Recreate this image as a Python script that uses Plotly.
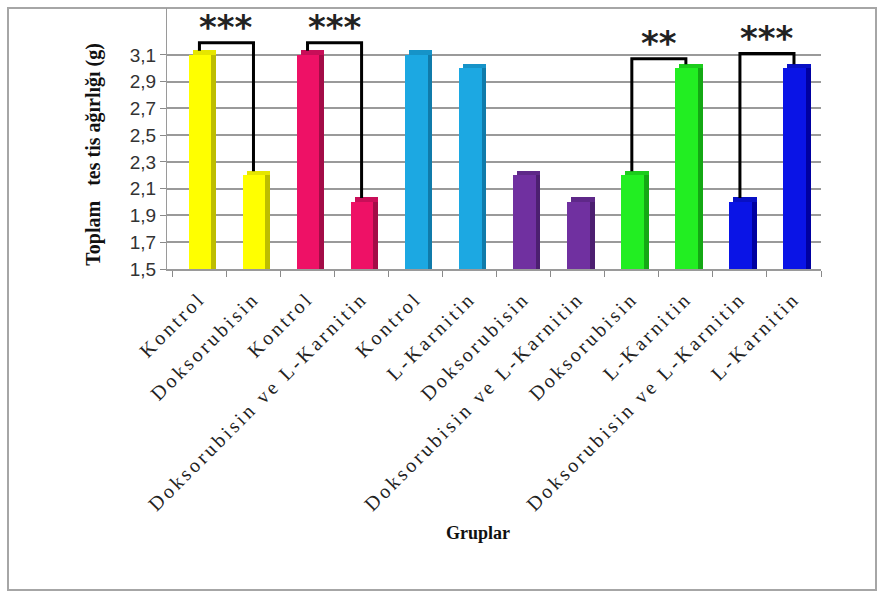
import plotly.graph_objects as go

# ---- data ----
categories = ["Kontrol", "Doksorubisin", "Kontrol", "Doksorubisin ve L-Karnitin",
              "Kontrol", "L-Karnitin", "Doksorubisin", "Doksorubisin ve L-Karnitin",
              "Doksorubisin", "L-Karnitin", "Doksorubisin ve L-Karnitin", "L-Karnitin"]
values = [3.1, 2.2, 3.1, 2.0, 3.1, 3.0, 2.2, 2.0, 2.2, 3.0, 2.0, 3.0]
ytick_vals = [1.5, 1.7, 1.9, 2.1, 2.3, 2.5, 2.7, 2.9, 3.1]
ytick_text = ["1,5", "1,7", "1,9", "2,1", "2,3", "2,5", "2,7", "2,9", "3,1"]
# significance brackets: (left index, right index, label)
brackets = [(0, 1, "***"), (2, 3, "***"), (8, 9, "**"), (10, 11, "***")]

# ---- styles ----
front_colors = ["#FFFF00", "#FFFF00", "#EE1166", "#EE1166", "#1CA8E2", "#1CA8E2",
                "#7030A0", "#7030A0", "#22EE22", "#22EE22", "#0A14E6", "#0A14E6"]
side_colors = ["#BDBD00", "#BDBD00", "#A30C47", "#A30C47", "#107BAA", "#107BAA",
               "#4C1F70", "#4C1F70", "#14A814", "#14A814", "#0000A0", "#0000A0"]
top_colors = ["#E6E600", "#E6E600", "#C80E58", "#C80E58", "#1693C8", "#1693C8",
              "#5E2888", "#5E2888", "#1CCC1C", "#1CCC1C", "#0810C4", "#0810C4"]
bracket_top_offset = [0.09, 0.09, 0.07, 0.11]
cap = 0.035

x = list(range(len(values)))

fig = go.Figure()
fig.add_trace(go.Bar(x=x, y=[v - 1.5 for v in values], base=1.5, width=0.42, offset=-0.20,
                     marker=dict(color=front_colors, line=dict(width=0)), showlegend=False,
                     hoverinfo="skip"))
fig.add_trace(go.Bar(x=x, y=[v - 1.5 + cap for v in values], base=1.5, width=0.09, offset=0.22,
                     marker=dict(color=side_colors, line=dict(width=0)), showlegend=False,
                     hoverinfo="skip"))
fig.add_trace(go.Bar(x=x, y=[cap] * len(values), base=values, width=0.43, offset=-0.12,
                     marker=dict(color=top_colors, line=dict(width=0)), showlegend=False,
                     hoverinfo="skip"))

annotations = []
for (a, b, lab), off in zip(brackets, bracket_top_offset):
    top = max(values[a], values[b]) + off
    fig.add_trace(go.Scatter(
        x=[a, a, b, b],
        y=[values[a] + 0.03, top, top, values[b] + 0.03],
        mode="lines", line=dict(color="black", width=3),
        showlegend=False, hoverinfo="skip", cliponaxis=False))
    annotations.append(dict(x=(a + b) / 2, y=top, xref="x", yref="y", text="<b>" + lab + "</b>",
                            showarrow=False, yanchor="bottom", yshift=-6,
                            font=dict(family="DejaVu Sans", size=34, color="#222")))

# axis titles as annotations
annotations.append(dict(x=(80 - 167) / 654, y=0.44, xref="paper", yref="paper",
                        text="<b>Toplam\u00a0\u00a0 tes tis ağırlığı (g)</b>", textangle=-90,
                        showarrow=False,
                        font=dict(family="Liberation Serif", size=20, color="#111")))
annotations.append(dict(x=0.4755, y=-1.057, xref="paper", yref="paper",
                        text="<b>Gruplar</b>", showarrow=False,
                        font=dict(family="Liberation Serif", size=18, color="#111")))

fig.update_layout(
    width=883, height=597,
    margin=dict(l=167, r=62, t=8, b=328),
    paper_bgcolor="white", plot_bgcolor="white",
    barmode="overlay", bargap=0,
    annotations=annotations,
    shapes=[dict(type="rect", xref="paper", yref="paper",
                 x0=(8 - 167) / 654, x1=(876 - 167) / 654,
                 y0=(269 - 590) / 261, y1=(269 - 8) / 261,
                 line=dict(color="#A6A6A6", width=2), fillcolor="rgba(0,0,0,0)",
                 layer="below")],
    xaxis=dict(range=[-0.6, 11.5], tickmode="array", tickvals=x, ticktext=categories,
               tickangle=-45, ticks="", showgrid=False, zeroline=False,
               showline=True, linecolor="#9a9a9a", linewidth=2,
               ticklabelstandoff=8,
               tickfont=dict(family="Liberation Serif", size=20, color="#222"),
               minor=dict(tickmode="array", tickvals=[i - 0.5 for i in range(13)],
                          ticks="outside", ticklen=6, tickcolor="#8a8a8a", tickwidth=1,
                          showgrid=False)),
    yaxis=dict(range=[1.5, 3.45], tickmode="array", tickvals=ytick_vals, ticktext=ytick_text,
               ticks="outside", ticklen=6, tickcolor="#8a8a8a",
               showgrid=True, gridcolor="#9a9a9a", gridwidth=2, zeroline=False,
               showline=True, linecolor="#9a9a9a", linewidth=1,
               tickfont=dict(family="Liberation Sans", size=19, color="#333")),
)

post = """
var gd = document.getElementById('{plot_id}');
function ls(){ gd.querySelectorAll('.xtick text').forEach(function(t){ t.style.letterSpacing='3px'; }); }
ls(); if (gd.on) { gd.on('plotly_afterplot', ls); }
"""
fig.write_html("out.html", post_script=post)
